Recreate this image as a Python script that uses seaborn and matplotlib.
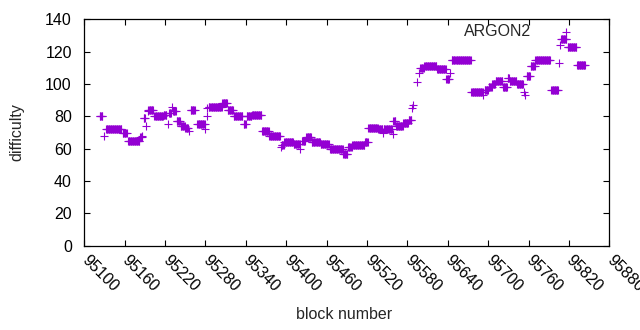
import matplotlib
matplotlib.use("Agg")
import matplotlib.pyplot as plt
import seaborn as sns
import pandas as pd
import numpy as np

# Runs of constant difficulty: first block, last block, value
run_start = [95123, 95129, 95132, 95157, 95165, 95183, 95186, 95188, 95192, 95194,
             95195, 95204, 95218, 95225, 95226, 95231, 95232, 95237, 95243, 95250,
             95255, 95258, 95268, 95280, 95282, 95283, 95285, 95305, 95313, 95322,
             95337, 95341, 95349, 95364, 95375, 95392, 95393, 95397, 95411, 95421,
             95424, 95430, 95438, 95451, 95465, 95485, 95492, 95498, 95517, 95522,
             95537, 95544, 95545, 95558, 95559, 95563, 95574, 95582, 95587, 95589,
             95595, 95598, 95599, 95605, 95624, 95638, 95644, 95646, 95675, 95693,
             95695, 95701, 95706, 95711, 95722, 95729, 95732, 95743, 95753, 95755,
             95757, 95763, 95770, 95794, 95805, 95807, 95808, 95818, 95832]
run_end = [95127, 95129, 95155, 95163, 95182, 95185, 95186, 95190, 95192, 95194,
           95202, 95217, 95222, 95225, 95229, 95231, 95236, 95242, 95249, 95254,
           95255, 95264, 95279, 95280, 95282, 95283, 95304, 95312, 95321, 95335,
           95340, 95348, 95363, 95374, 95391, 95392, 95396, 95410, 95420, 95421,
           95428, 95437, 95450, 95463, 95484, 95491, 95497, 95516, 95521, 95536,
           95543, 95544, 95557, 95558, 95562, 95573, 95581, 95586, 95587, 95589,
           95595, 95598, 95604, 95623, 95637, 95642, 95644, 95674, 95692, 95693,
           95700, 95705, 95710, 95721, 95728, 95731, 95742, 95752, 95753, 95755,
           95762, 95769, 95792, 95804, 95805, 95807, 95816, 95831, 95844]
run_value = [80, 68, 72, 70, 65, 67, 68, 79, 74, 83,
             84, 80, 81, 75, 82, 86, 83, 77, 74, 73,
             71, 84, 75, 72, 80, 85, 86, 88, 84, 80,
             75, 80, 81, 71, 68, 61, 62, 64, 63, 60,
             65, 67, 64, 63, 60, 57, 61, 62, 64, 73,
             72, 70, 72, 69, 77, 74, 76, 78, 85, 87,
             101, 107, 110, 111, 109, 103, 107, 115, 95, 93,
             96, 98, 100, 102, 98, 104, 102, 100, 95, 93,
             105, 111, 115, 96, 113, 124, 128, 123, 112]

series_label = "ARGON2"
x_label = "block number"
y_label = "difficulty"
x_ticks = list(range(95100, 95881, 60))
y_ticks = list(range(0, 141, 20))

blocks, values = [], []
for s, e, v in zip(run_start, run_end, run_value):
    for b in range(s, e + 1):
        blocks.append(b)
        values.append(v)
df = pd.DataFrame({"block": blocks, "difficulty": values})

sns.set_style("ticks")
plt.rcParams["font.family"] = ["Liberation Sans", "DejaVu Sans"]
fs = 11.5
plt.rcParams["font.size"] = fs

fig = plt.figure(figsize=(6.4, 3.3), dpi=100)
ax = fig.add_axes([84.3 / 640, 1 - 245.7 / 330, 525 / 640, 226.4 / 330])

color = "#9400D3"
sns.scatterplot(data=df, x="block", y="difficulty", marker="+", color=color,
                s=36, linewidth=0.8, ax=ax, label=series_label)

ax.set_xlim(95100, 95880)
ax.set_ylim(0, 140)
ax.set_xticks(x_ticks)
ax.set_yticks(y_ticks)
ax.set_xticklabels([str(t) for t in x_ticks], rotation=-45, ha="left", va="center",
                   rotation_mode="anchor")
ax.tick_params(direction="in", length=4, width=0.8, top=True, right=True,
               labelsize=fs, colors="black")
ax.tick_params(axis="x", pad=9)
ax.tick_params(axis="y", pad=9)
for sp in ax.spines.values():
    sp.set_visible(True)
    sp.set_linewidth(0.9)
    sp.set_color("black")

ax.set_xlabel(x_label, fontsize=fs)
ax.set_ylabel(y_label, fontsize=fs)
ax.xaxis.set_label_coords(0.495, -0.272)
ax.yaxis.set_label_coords(-0.115, 0.5)

leg = ax.legend(loc="center right", bbox_to_anchor=(0.9408, 0.945), frameon=False,
                markerfirst=False, borderpad=0, borderaxespad=0, handlelength=1.5,
                handletextpad=1.45, fontsize=fs)

fig.savefig("out.png", dpi=100)
